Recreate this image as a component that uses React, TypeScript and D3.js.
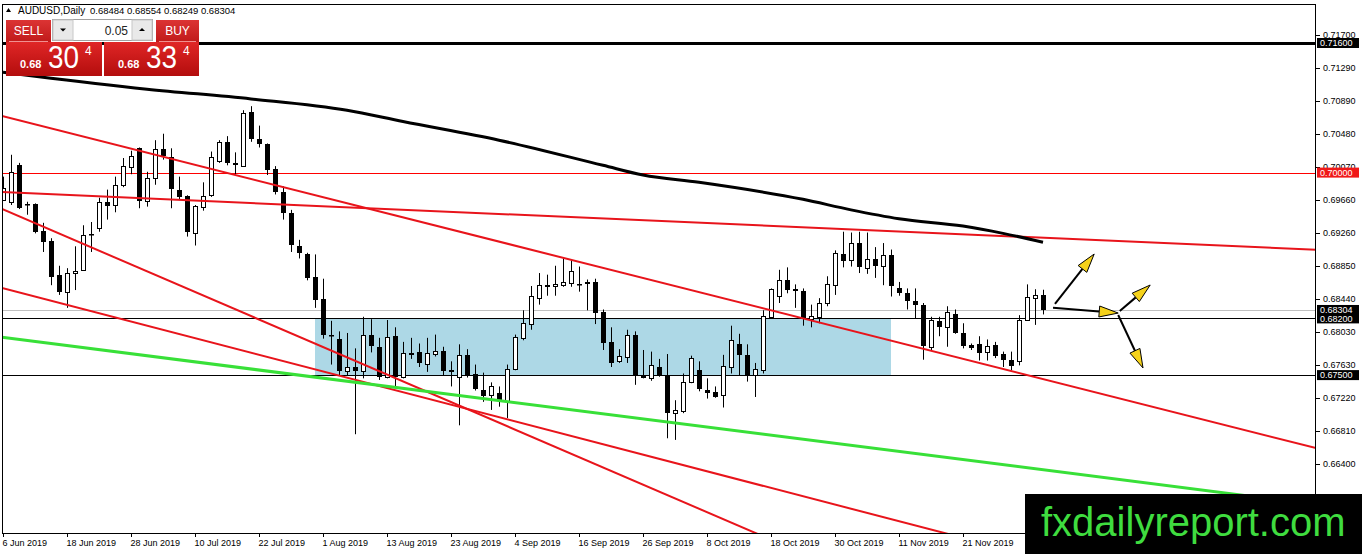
import React from "react";
import * as d3 from "d3";

// ---------- DATA ----------
const opens = [
  0.6966, 0.6964, 0.7009, 0.6961, 0.6961, 0.6928, 0.6915, 0.6874, 0.6853, 0.6876,
  0.6880, 0.6924, 0.6932, 0.6964, 0.6960, 0.6985, 0.7008, 0.7030, 0.6965, 0.6993,
  0.7029, 0.7019, 0.6979, 0.6971, 0.6926, 0.6957, 0.6972, 0.7015, 0.7038, 0.7012,
  0.7009, 0.7075, 0.7041, 0.7035, 0.7004, 0.6976, 0.6950, 0.6909, 0.6900, 0.6871,
  0.6844, 0.6800, 0.6795, 0.6755, 0.6760, 0.6755, 0.6800, 0.6785, 0.6748, 0.6798,
  0.6747, 0.6777, 0.6778, 0.6763, 0.6776, 0.6780, 0.6755, 0.6748, 0.6775, 0.6751,
  0.6732, 0.6725, 0.6728, 0.6719, 0.6758, 0.6795, 0.6814, 0.6845, 0.6860, 0.6860,
  0.6861, 0.6864, 0.6863, 0.6865, 0.6865, 0.6828, 0.6791, 0.6767, 0.6773, 0.6800,
  0.6749, 0.6747, 0.6760, 0.6750, 0.6703, 0.6705, 0.6741, 0.6756, 0.6732, 0.6729,
  0.6725, 0.6760, 0.6788, 0.6775, 0.6750, 0.6756, 0.6822, 0.6848, 0.6867, 0.6856,
  0.6854, 0.6819, 0.6822, 0.6839, 0.6862, 0.6900, 0.6892, 0.6913, 0.6882, 0.6893,
  0.6884, 0.6898, 0.6857, 0.6851, 0.6842, 0.6837, 0.6785, 0.6817, 0.6810, 0.6826,
  0.6802, 0.6787, 0.6789, 0.6778, 0.6787, 0.6776, 0.6769, 0.6768, 0.6818, 0.6845,
  0.68484,
];
const highs = [
  0.6995, 0.7022, 0.7012, 0.6964, 0.6962, 0.6938, 0.6919, 0.6885, 0.6882, 0.6909,
  0.6935, 0.6939, 0.6969, 0.6979, 0.6995, 0.7018, 0.7027, 0.7031, 0.7001, 0.7040,
  0.7048, 0.7030, 0.6995, 0.6972, 0.6960, 0.6988, 0.7026, 0.7040, 0.7045, 0.7025,
  0.7077, 0.7082, 0.7058, 0.7036, 0.7008, 0.6983, 0.6954, 0.6917, 0.6901, 0.6899,
  0.6869, 0.6817, 0.6804, 0.6802, 0.6783, 0.6822, 0.6819, 0.6796, 0.6818, 0.6809,
  0.6791, 0.6796, 0.6789, 0.6796, 0.6800, 0.6785, 0.6767, 0.6788, 0.6782, 0.6763,
  0.6753, 0.6741, 0.6736, 0.6763, 0.6800, 0.6830, 0.6860, 0.6876, 0.6874, 0.6885,
  0.6894, 0.6892, 0.6884, 0.6868, 0.6869, 0.6831, 0.6809, 0.6782, 0.6806, 0.6804,
  0.6781, 0.6779, 0.6770, 0.6776, 0.6719, 0.6752, 0.6774, 0.6767, 0.6746, 0.6736,
  0.6775, 0.6811, 0.6801, 0.6788, 0.6765, 0.6830, 0.6857, 0.6880, 0.6883, 0.6862,
  0.6857, 0.6837, 0.6845, 0.6872, 0.6904, 0.6927, 0.6926, 0.6927, 0.6926, 0.6908,
  0.6913, 0.6905, 0.6865, 0.6857, 0.6857, 0.6839, 0.6822, 0.6822, 0.6835, 0.6831,
  0.6814, 0.6789, 0.6798, 0.6794, 0.6791, 0.6779, 0.6779, 0.6824, 0.6862, 0.6856,
  0.68554,
];
const lows = [
  0.6965, 0.6960, 0.6955, 0.6948, 0.6925, 0.6902, 0.6861, 0.6849, 0.6833, 0.6855,
  0.6879, 0.6902, 0.6927, 0.6942, 0.6951, 0.6982, 0.6998, 0.6956, 0.6958, 0.6985,
  0.7016, 0.6956, 0.6966, 0.6921, 0.6910, 0.6953, 0.6970, 0.7012, 0.7009, 0.6998,
  0.7007, 0.7038, 0.7031, 0.6997, 0.6973, 0.6942, 0.6902, 0.6894, 0.6867, 0.6833,
  0.6795, 0.6763, 0.6750, 0.6750, 0.6677, 0.6746, 0.6778, 0.6744, 0.6746, 0.6736,
  0.6746, 0.6770, 0.6760, 0.6754, 0.6773, 0.6750, 0.6736, 0.6688, 0.6747, 0.6731,
  0.6717, 0.6707, 0.6711, 0.6697, 0.6756, 0.6793, 0.6806, 0.6837, 0.6848, 0.6848,
  0.6859, 0.6859, 0.6853, 0.6830, 0.6813, 0.6781, 0.6760, 0.6765, 0.6765, 0.6738,
  0.6746, 0.6743, 0.6748, 0.6672, 0.6670, 0.6703, 0.6740, 0.6730, 0.6721, 0.6722,
  0.6710, 0.6752, 0.6750, 0.6742, 0.6723, 0.6752, 0.6820, 0.6839, 0.6851, 0.6833,
  0.6811, 0.6809, 0.6814, 0.6835, 0.6849, 0.6883, 0.6884, 0.6876, 0.6875, 0.6870,
  0.6861, 0.6847, 0.6848, 0.6831, 0.6820, 0.6769, 0.6781, 0.6798, 0.6785, 0.6801,
  0.6783, 0.6781, 0.6768, 0.6768, 0.6771, 0.6760, 0.6756, 0.6762, 0.6817, 0.6812,
  0.68249,
];
const closes = [
  0.6981, 0.7001, 0.6956, 0.6960, 0.6927, 0.6914, 0.6870, 0.6853, 0.6876, 0.6879,
  0.6923, 0.6923, 0.6964, 0.6959, 0.6985, 0.7008, 0.7021, 0.6964, 0.6993, 0.7029,
  0.7020, 0.6979, 0.6970, 0.6926, 0.6959, 0.6971, 0.7019, 0.7038, 0.7012, 0.7009,
  0.7074, 0.7042, 0.7035, 0.7003, 0.6975, 0.6950, 0.6911, 0.6900, 0.6870, 0.6843,
  0.6800, 0.6799, 0.6756, 0.6760, 0.6755, 0.6800, 0.6787, 0.6748, 0.6797, 0.6747,
  0.6777, 0.6775, 0.6764, 0.6777, 0.6780, 0.6755, 0.6756, 0.6775, 0.6749, 0.6732,
  0.6725, 0.6736, 0.6719, 0.6758, 0.6797, 0.6814, 0.6848, 0.6861, 0.6861, 0.6863,
  0.6865, 0.6879, 0.6862, 0.6863, 0.6827, 0.6790, 0.6765, 0.6773, 0.6800, 0.6750,
  0.6747, 0.6763, 0.6749, 0.6703, 0.6707, 0.6741, 0.6771, 0.6732, 0.6728, 0.6723,
  0.6761, 0.6793, 0.6774, 0.6750, 0.6758, 0.6823, 0.6856, 0.6868, 0.6855, 0.6853,
  0.6820, 0.6823, 0.6839, 0.6862, 0.6901, 0.6891, 0.6913, 0.6883, 0.6893, 0.6884,
  0.6898, 0.6860, 0.6851, 0.6841, 0.6837, 0.6786, 0.6818, 0.6809, 0.6828, 0.6802,
  0.6786, 0.6783, 0.6778, 0.6786, 0.6774, 0.6768, 0.6762, 0.6818, 0.6846, 0.68484,
  0.68304,
];

// moving average read at bar indices
const maBars = [0, 4, 18, 31, 43, 50, 62, 75, 80, 87, 100, 106, 112, 120, 125, 130];
const maValues = [0.7124, 0.7119, 0.7103, 0.7091, 0.7077, 0.7063, 0.7040, 0.7009, 0.6997, 0.6988, 0.6967, 0.6954, 0.6943, 0.6934, 0.6925, 0.6914];

// date labels every 8 bars
const dateLabels = [
  "6 Jun 2019", "18 Jun 2019", "28 Jun 2019", "10 Jul 2019", "22 Jul 2019", "1 Aug 2019",
  "13 Aug 2019", "23 Aug 2019", "4 Sep 2019", "16 Sep 2019", "26 Sep 2019", "8 Oct 2019",
  "18 Oct 2019", "30 Oct 2019", "11 Nov 2019", "21 Nov 2019",
];
const priceTicks = [0.717, 0.7129, 0.7089, 0.7048, 0.7007, 0.6966, 0.6926, 0.6885, 0.6844, 0.6803, 0.6763, 0.6722, 0.6681, 0.664, 0.6599];

// horizontal levels
const levelPrices = [0.716, 0.7, 0.682, 0.675];
const levelColors = ["#000000", "#ff0000", "#000000", "#000000"];
const levelWidths = [3, 1, 1, 1];
const bidPrice = 0.68304;

// zone rectangle (bar range & price range)
const zoneBars = [39, 111];
const zonePrices = [0.682, 0.675];

// trend lines: [bar1, price1, bar2, price2]
const redTrends = [
  [0, 0.70695, 130, 0.67451],
  [0, 0.69759, 130, 0.69195],
  [0, 0.69546, 90, 0.65723],
  [0, 0.68572, 117, 0.65568],
];
const greenTrend = [0, 0.67965, 130, 0.66331];

// arrows: [barFrom, priceFrom, barTo, priceTo]
const arrows = [
  [131.5, 0.68378, 136.4, 0.68995],
  [131.25, 0.68332, 139.4, 0.68266],
  [139.6, 0.68291, 143.4, 0.68612],
  [139.4, 0.68242, 142.5, 0.67588],
];

// ---------- LAYOUT ----------
const W = 1362;
const H = 554;
const L = 2;
const R = 1316;
const T = 4;
const B = 533;
const FONT = "'Liberation Sans', Arial, sans-serif";

export default function App() {
  const x = d3.scaleLinear().domain([0, 130]).range([3, 1043]);
  const y = d3.scaleLinear().domain([0.716, 0.675]).range([43, 375.1]);

  const extLine = (t: number[]) => {
    const b0 = x.invert(L);
    const b1 = x.invert(R);
    const slope = (t[3] - t[1]) / (t[2] - t[0]);
    const p = (b: number) => t[1] + slope * (b - t[0]);
    return { x1: L, y1: y(p(b0)), x2: R, y2: y(p(b1)) };
  };

  const maLine = d3
    .line<number>()
    .x((_, i) => x(maBars[i]))
    .y((d) => y(d))
    .curve(d3.curveMonotoneX)(maValues) as string;

  const fmt = d3.format(".5f");

  const candles = opens.map((o, i) => {
    const c = closes[i];
    const cx = Math.round(x(i)) + 0.5;
    const top = y(Math.max(o, c));
    const bot = y(Math.min(o, c));
    const bull = c >= o;
    return (
      <g key={i}>
        <line x1={cx} x2={cx} y1={y(highs[i])} y2={y(lows[i])} stroke="#000" strokeWidth={1} />
        {bull ? (
          <rect x={cx - 2} y={Math.round(top) + 0.5} width={4} height={Math.max(1, Math.round(bot - top))} fill="#fff" stroke="#000" strokeWidth={1} />
        ) : (
          <rect x={cx - 2.5} y={Math.round(top)} width={5} height={Math.max(1.5, Math.round(bot - top))} fill="#000" />
        )}
      </g>
    );
  });

  const arrowEls = arrows.map((a, i) => {
    const x1 = x(a[0]);
    const y1 = y(a[1]);
    const x2 = x(a[2]);
    const y2 = y(a[3]);
    const ang = Math.atan2(y2 - y1, x2 - x1);
    const len = 19;
    const hw = 5.5;
    const bx = x2 - len * Math.cos(ang);
    const by = y2 - len * Math.sin(ang);
    const px = -Math.sin(ang) * hw;
    const py = Math.cos(ang) * hw;
    return (
      <g key={i}>
        <line x1={x1} y1={y1} x2={bx} y2={by} stroke="#000" strokeWidth={2} />
        <path d={`M${x2},${y2}L${bx + px},${by + py}L${bx - px},${by - py}Z`} fill="#f5d21a" stroke="#000" strokeWidth={1} />
      </g>
    );
  });

  const axisLabel = (v: number, bg: string, key: string) => (
    <g key={key}>
      <rect x={1317} y={y(v) - 5} width={42} height={10} fill={bg} />
      <text x={1320} y={y(v)} dy="0.35em" fontSize={9} fontFamily={FONT} fill="#fff">
        {fmt(v)}
      </text>
    </g>
  );

  return (
    <svg width={W} height={H} style={{ position: "absolute", left: 0, top: 0, background: "#fff" }}>
      <defs>
        <clipPath id="plot">
          <rect x={L} y={T} width={R - L} height={B - T} />
        </clipPath>
        <linearGradient id="smallGrad" x1="0" y1="0" x2="0" y2="1">
          <stop offset="0" stopColor="#dc3434" />
          <stop offset="1" stopColor="#c01a1a" />
        </linearGradient>
        <linearGradient id="bigGrad" x1="0" y1="0" x2="0" y2="1">
          <stop offset="0" stopColor="#e02626" />
          <stop offset="1" stopColor="#b30d0d" />
        </linearGradient>
      </defs>
      <rect x={0} y={0} width={W} height={H} fill="#fff" />

      <g clipPath="url(#plot)">
        {/* zone */}
        <rect
          x={x(zoneBars[0])}
          y={y(zonePrices[0])}
          width={x(zoneBars[1]) - x(zoneBars[0])}
          height={y(zonePrices[1]) - y(zonePrices[0])}
          fill="#add8e6"
        />
        {/* bid line */}
        <line x1={L} x2={R} y1={Math.round(y(bidPrice)) + 0.5} y2={Math.round(y(bidPrice)) + 0.5} stroke="#c0c0c0" strokeWidth={1} />
        {/* levels */}
        {levelPrices.map((p, i) => (
          <line key={i} x1={L} x2={R} y1={Math.round(y(p)) + 0.5} y2={Math.round(y(p)) + 0.5} stroke={levelColors[i]} strokeWidth={levelWidths[i]} />
        ))}
        {candles}
        {/* trend lines */}
        {redTrends.map((t, i) => {
          const l = extLine(t);
          return <line key={i} {...l} stroke="#e8141b" strokeWidth={2} />;
        })}
        <line {...extLine(greenTrend)} stroke="#38e038" strokeWidth={3} />
        <path d={maLine} fill="none" stroke="#000" strokeWidth={3} />
        {arrowEls}
      </g>

      {/* frame */}
      <rect x={L + 0.5} y={T + 0.5} width={R - L - 1} height={B - T} fill="none" stroke="#000" strokeWidth={1} />

      {/* y axis */}
      {priceTicks.map((v, i) => (
        <g key={i}>
          <line x1={R} x2={R + 4} y1={Math.round(y(v)) + 0.5} y2={Math.round(y(v)) + 0.5} stroke="#000" />
          <text x={1323} y={y(v)} dy="0.35em" fontSize={9} fontFamily={FONT} fill="#000">
            {fmt(v)}
          </text>
        </g>
      ))}
      {axisLabel(levelPrices[0], "#000", "l0")}
      {axisLabel(levelPrices[1], "#f01818", "l1")}
      {axisLabel(bidPrice, "#000", "bid")}
      {axisLabel(levelPrices[2], "#000", "l2")}
      {axisLabel(levelPrices[3], "#000", "l3")}

      {/* x axis */}
      {dateLabels.map((d, i) => {
        const xx = Math.round(x(i * 8)) + 0.5;
        return (
          <g key={d}>
            <line x1={xx} x2={xx} y1={B} y2={B + 4} stroke="#000" />
            <text x={xx - 1} y={546} fontSize={9} fontFamily={FONT} fill="#000">
              {d}
            </text>
          </g>
        );
      })}

      {/* title */}
      <path d="M6,12 L8.5,8 L11,12 Z" fill="#000" />
      <text x={18} y={14} fontSize={10} fontFamily={FONT} fill="#000">
        AUDUSD,Daily
      </text>
      <text x={90} y={14} fontSize={9.5} fontFamily={FONT} fill="#000">
        {`${fmt(opens[130])} ${fmt(highs[130])} ${fmt(lows[130])} ${fmt(closes[130])}`}
      </text>

      {/* trade panel */}
      <rect x={6} y={20} width={45} height={22} fill="url(#smallGrad)" />
      <line x1={9} x2={48} y1={41.5} y2={41.5} stroke="#f09090" strokeWidth={1} />
      <text x={28.5} y={35} fontSize={12} fontFamily={FONT} fill="#fff" textAnchor="middle">
        SELL
      </text>
      <rect x={156} y={20} width={43} height={22} fill="url(#smallGrad)" />
      <line x1={159} x2={196} y1={41.5} y2={41.5} stroke="#f09090" strokeWidth={1} />
      <text x={177.5} y={35} fontSize={12} fontFamily={FONT} fill="#fff" textAnchor="middle">
        BUY
      </text>
      <rect x={52.5} y={19.5} width={100} height={21} fill="#fff" stroke="#a0a0a0" />
      <rect x={53} y={20} width={20} height={20} fill="#e9e9e9" stroke="#c8c8c8" />
      <rect x={132} y={20} width={20} height={20} fill="#e9e9e9" stroke="#c8c8c8" />
      <path d="M60,28.5 L66,28.5 L63,31.5 Z" fill="#000" />
      <path d="M139,31 L145,31 L142,28 Z" fill="#000" />
      <text x={128} y={35} fontSize={12} fontFamily={FONT} fill="#222" textAnchor="end">
        0.05
      </text>

      <rect x={6} y={42} width={96} height={34} fill="url(#bigGrad)" />
      <rect x={104} y={42} width={95} height={34} fill="url(#bigGrad)" />
      <text x={20} y={68} fontSize={11} fontWeight="bold" fontFamily={FONT} fill="#fff">
        0.68
      </text>
      <text x={48} y={68} fontSize={32} fontFamily={FONT} fill="#fff" textLength={31} lengthAdjust="spacingAndGlyphs">
        30
      </text>
      <text x={85} y={55} fontSize={12} fontFamily={FONT} fill="#fff">
        4
      </text>
      <text x={118} y={68} fontSize={11} fontWeight="bold" fontFamily={FONT} fill="#fff">
        0.68
      </text>
      <text x={146} y={68} fontSize={32} fontFamily={FONT} fill="#fff" textLength={31} lengthAdjust="spacingAndGlyphs">
        33
      </text>
      <text x={183} y={55} fontSize={12} fontFamily={FONT} fill="#fff">
        4
      </text>

      {/* watermark */}
      <rect x={1025} y={494} width={W - 1025} height={H - 494} fill="#000" />
      <text x={1041} y={536} fontSize={40} fontFamily={FONT} fill="#3fdc3f">
        fxdailyreport.com
      </text>
    </svg>
  );
}
